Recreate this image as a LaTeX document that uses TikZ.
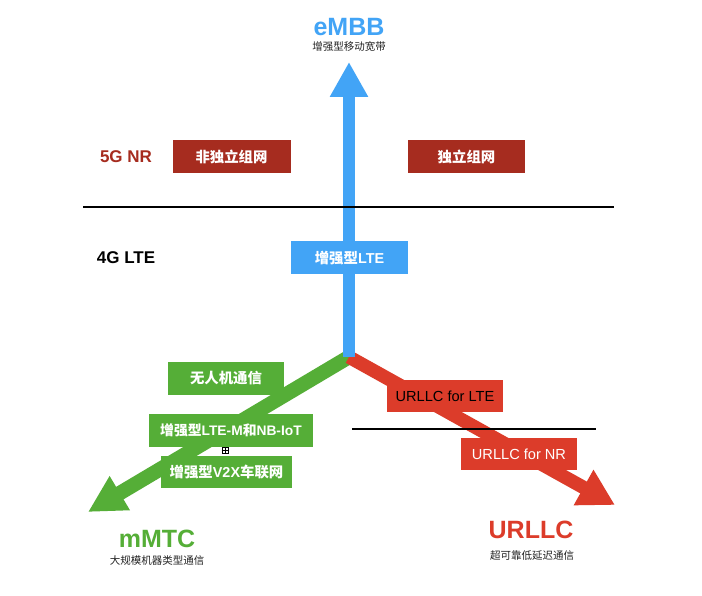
\documentclass[tikz,border=0pt]{standalone}
\usepackage{fontspec}
\setmainfont{Liberation Sans}
\newfontfamily\cjk{Noto Sans CJK SC}
\usetikzlibrary{arrows.meta}
\definecolor{cblue}{HTML}{42A4F6}
\definecolor{cgreen}{HTML}{55AE37}
\definecolor{cred}{HTML}{DC3C2A}
\definecolor{cdark}{HTML}{A62C1F}
\definecolor{csub}{HTML}{222222}
\tikzset{
  box/.style={rectangle, inner sep=0pt, text=white, font=\fontsize{14.4}{16}\selectfont\bfseries},
  biglabel/.style={inner sep=0pt, font=\fontsize{25}{27}\selectfont\bfseries},
  layerlabel/.style={inner sep=0pt, font=\fontsize{17}{19}\selectfont\bfseries},
  sublabel/.style={inner sep=0pt, text=csub, font=\fontsize{10.5}{12}\selectfont\cjk},
  sep/.style={draw=black, line width=1.5pt},
  fatarrow/.style={line width=#1, line cap=butt},
}
\begin{document}
\begin{tikzpicture}[x=1pt,y=-1pt]
\useasboundingbox (0,0) rectangle (702,596);
\fill[white] (0,0) rectangle (702,596);
% coordinates
\coordinate (J) at (349,357);
\coordinate (Tb) at (349,62);
\coordinate (Tg) at (88,512);
\coordinate (Tr) at (615,505);
% arrows
\draw[cgreen, fatarrow=14.5pt, -{Triangle[length=37pt,width=37pt]}] (J) -- (Tg);
\draw[cred, fatarrow=13.5pt, -{Triangle[length=36pt,width=38pt]}] (J) -- (Tr);
\draw[cblue, fatarrow=12pt, -{Triangle[length=35pt,width=36pt]}] (J) -- (Tb);
% separator lines
\coordinate (l1a) at (83,207); \coordinate (l1b) at (614,207);
\coordinate (l2a) at (352,429); \coordinate (l2b) at (596,429);
\draw[sep] (l1a) -- (l1b);
\draw[sep] (l2a) -- (l2b);
% top labels
\node[biglabel, text=cblue] (embb) at (349,27) {eMBB};
\node[sublabel] (embbsub) at (349,47) {增强型移动宽带};
\node[layerlabel, text=cdark] (nr) at (126,157) {5G NR};
\node[layerlabel, text=black] (lte) at (126,258) {4G LTE};
% 5G boxes
\node[box, fill=cdark, minimum width=118pt, minimum height=33pt] (nsa) at (231.5,156.5) {\cjk 非独立组网};
\node[box, fill=cdark, minimum width=117pt, minimum height=33pt] (sa) at (466.5,156.5) {\cjk 独立组网};
\node[box, fill=cblue, minimum width=117pt, minimum height=33pt] (elte) at (349.5,258) {{\cjk 增强型}LTE};
% green boxes
\node[box, fill=cgreen, minimum width=116pt, minimum height=33pt] (uav) at (226,378.5) {\cjk 无人机通信};
\node[box, fill=cgreen, minimum width=164pt, minimum height=33pt, font=\fontsize{13.8}{15}\selectfont\bfseries] (ltem) at (231,430.5) {{\cjk 增强型}LTE-M{\cjk 和}NB-IoT};
\node[draw=black, fill=white, line width=0.6pt, minimum width=6pt, minimum height=6pt, inner sep=0pt] (glyph) at (225,450.5) {};
\draw[line width=0.5pt] (glyph.north) -- (glyph.south) (glyph.west) -- (glyph.east);
\node[box, fill=cgreen, minimum width=131pt, minimum height=32pt] (v2x) at (226.5,472) {{\cjk 增强型}V2X{\cjk 车联网}};
% red boxes
\node[box, fill=cred, text=black, font=\fontsize{14.6}{16}\selectfont, minimum width=116pt, minimum height=32pt] (ull) at (445,396) {URLLC for LTE};
\node[box, fill=cred, font=\fontsize{14.6}{16}\selectfont, minimum width=116pt, minimum height=32pt] (unr) at (519,454) {URLLC for NR};
% bottom labels
\node[biglabel, text=cgreen] (mmtc) at (157,539) {mMTC};
\node[sublabel] (mmtcsub) at (157,561) {大规模机器类型通信};
\node[biglabel, text=cred] (urllc) at (531,530) {URLLC};
\node[sublabel] (urllcsub) at (532,556) {超可靠低延迟通信};
\end{tikzpicture}
\end{document}
